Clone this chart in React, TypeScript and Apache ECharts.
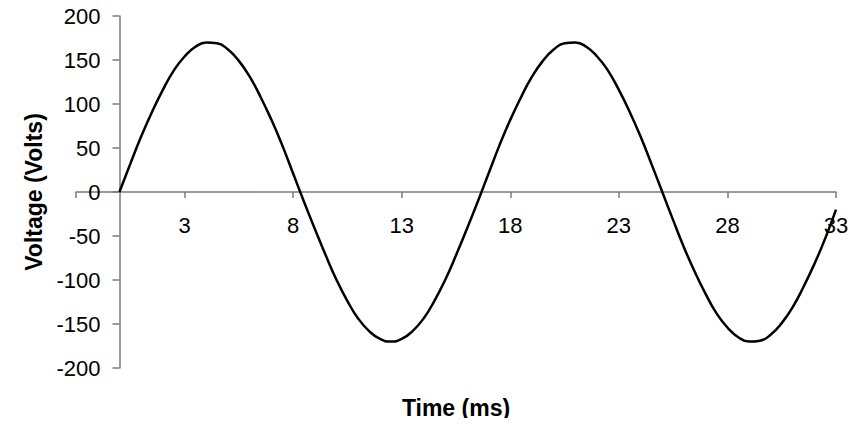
import React, { useEffect, useRef } from "react";
import * as echarts from "echarts";

// Time (ms) samples
const timeMs = [
  0, 0.5, 1, 1.5, 2, 2.5, 3, 3.5, 4, 4.5, 5, 5.5, 6, 6.5, 7, 7.5, 8, 8.5, 9, 9.5,
  10, 10.5, 11, 11.5, 12, 12.5, 13, 13.5, 14, 14.5, 15, 15.5, 16, 16.5, 17, 17.5,
  18, 18.5, 19, 19.5, 20, 20.5, 21, 21.5, 22, 22.5, 23, 23.5, 24, 24.5, 25, 25.5,
  26, 26.5, 27, 27.5, 28, 28.5, 29, 29.5, 30, 30.5, 31, 31.5, 32, 32.5, 33,
];
// Voltage (Volts) values
const voltage = [
  0, 32, 63, 91, 116, 138, 154, 165, 170, 169, 162, 149, 131, 108, 82, 53, 21, -11, -42, -72,
  -100, -124, -144, -158, -167, -170, -167, -158, -144, -124, -100, -72, -42, -11, 21, 53,
  82, 108, 131, 149, 162, 169, 170, 165, 154, 138, 116, 91, 63, 32, 0, -32,
  -63, -91, -116, -138, -154, -165, -170, -169, -162, -149, -131, -108, -82, -53, -20,
];
const xTickValues = [-2, 3, 8, 13, 18, 23, 28, 33];
const xLabelValues = [3, 8, 13, 18, 23, 28, 33];
const xTitle = "Time (ms)";
const yTitle = "Voltage (Volts)";

const FONT = "'Liberation Sans', Arial, sans-serif";
const AXIS_GRAY = "#7a7a7a";

export default function App() {
  const ref = useRef<HTMLDivElement>(null);
  useEffect(() => {
    if (!ref.current) return;
    const chart = echarts.init(ref.current, undefined, { renderer: "svg" });
    const data = timeMs.map((t, i) => [t, voltage[i]]);
    chart.setOption({
      animation: false,
      backgroundColor: "#ffffff",
      grid: { left: 76, right: 24, top: 16, bottom: 58, outerBoundsMode: "none", containLabel: false },
      xAxis: {
        type: "value",
        min: -2,
        max: 33,
        position: "bottom",
        offset: -176,
        axisLine: { show: true, onZero: false, lineStyle: { color: AXIS_GRAY, width: 1.5 } },
        axisTick: { show: true, length: 6, customValues: xTickValues, lineStyle: { color: AXIS_GRAY, width: 1.5 } },
        axisLabel: {
          customValues: xLabelValues,
          margin: 22,
          fontSize: 22,
          color: "#000",
          fontFamily: FONT,
        },
        splitLine: { show: false },
      },
      yAxis: {
        type: "value",
        min: -200,
        max: 200,
        interval: 50,
        position: "left",
        offset: -43.5,
        name: yTitle,
        nameLocation: "middle",
        nameGap: 74,
        nameRotate: 90,
        nameTextStyle: { fontSize: 23, fontWeight: "bold", color: "#000", fontFamily: FONT },
        axisLine: { show: true, onZero: false, lineStyle: { color: AXIS_GRAY, width: 1.5 } },
        axisTick: { show: true, length: 7, lineStyle: { color: AXIS_GRAY, width: 1.5 } },
        axisLabel: { margin: 19, fontSize: 22, color: "#000", fontFamily: FONT },
        splitLine: { show: false },
      },
      graphic: [
        {
          type: "text",
          x: 456,
          y: 408,
          style: {
            text: xTitle,
            fontSize: 23,
            fontWeight: "bold",
            fill: "#000",
            fontFamily: FONT,
            textAlign: "center",
            textVerticalAlign: "middle",
          },
        },
      ],
      series: [
        {
          type: "line",
          data,
          showSymbol: false,
          smooth: true,
          clip: false,
          lineStyle: { color: "#000", width: 2.5 },
        },
      ],
    });
    return () => chart.dispose();
  }, []);
  return <div ref={ref} style={{ width: 860, height: 426, margin: -8 }} />;
}
